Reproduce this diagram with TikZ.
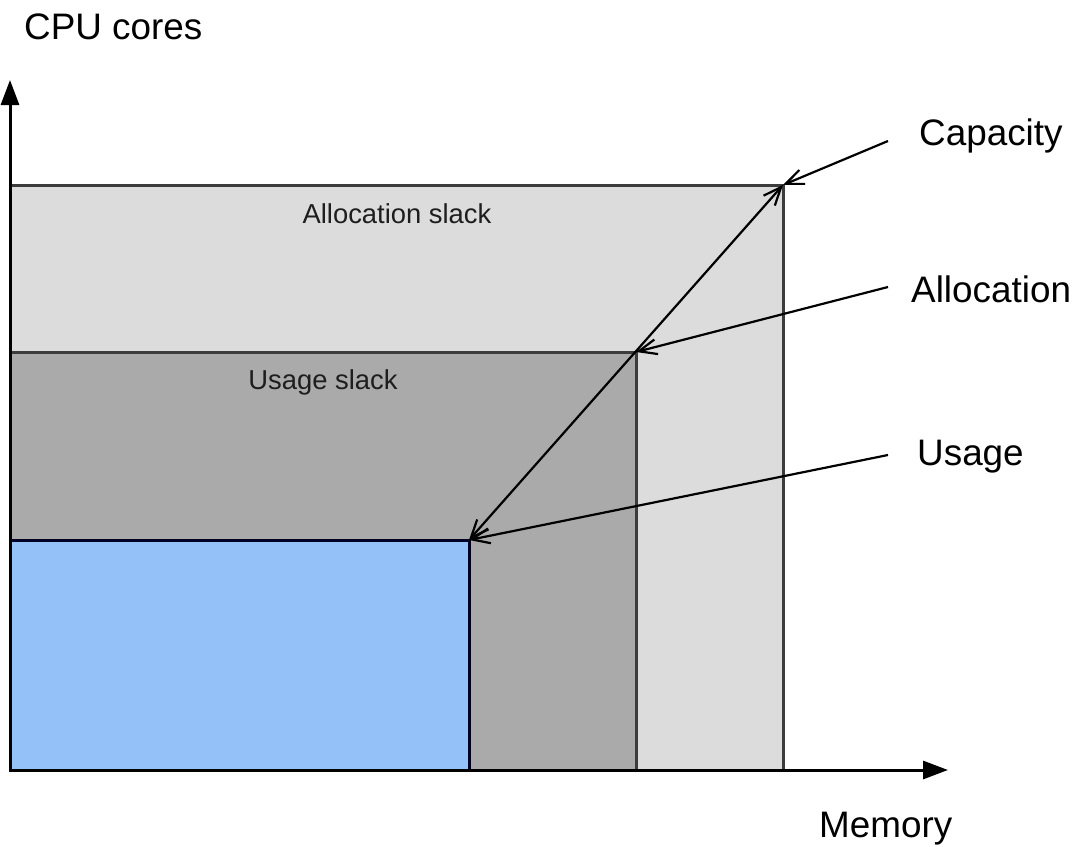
\documentclass[tikz,border=0pt]{standalone}
\usepackage{fontspec}
\setmainfont{Liberation Sans}
\usetikzlibrary{arrows.meta}
\definecolor{capfill}{RGB}{220,220,220}
\definecolor{allocfill}{RGB}{170,170,170}
\definecolor{usefill}{RGB}{148,194,248}
\definecolor{edge}{RGB}{60,60,60}
\definecolor{txt}{RGB}{30,30,30}
\tikzset{
  barb/.tip={Straight Barb[length=18bp,width=15bp]},
  region/.style={draw=edge, line width=3bp},
  axis/.style={line width=3bp, -{Triangle[length=25bp,width=18bp]}},
  pointer/.style={line width=2.2bp, -barb},
  biglabel/.style={font=\fontsize{37}{40}\selectfont, text=black, inner sep=0pt},
  smalllabel/.style={font=\fontsize{27.5}{30}\selectfont, text=txt, inner sep=0pt}
}
\begin{document}
\begin{tikzpicture}[x=1bp,y=-1bp]
\useasboundingbox (0,0) rectangle (1078,847);
\coordinate (O) at (10,770);
\coordinate (cap) at (783,185);
\coordinate (alloc) at (636,352);
\coordinate (use) at (469,540);
\coordinate (ytip) at (10,80);
\coordinate (xtip) at (948,770);
\coordinate (capsrc) at (888,141);
\coordinate (allocsrc) at (888,287);
\coordinate (usesrc) at (888,455);

\fill[capfill] (O) rectangle (cap);
\draw[region] (O |- cap) -- (cap) -- (cap |- O);
\fill[allocfill] (O) rectangle (alloc);
\draw[region] (O |- alloc) -- (alloc) -- (alloc |- O);
\fill[usefill] (O) rectangle (use);
\draw[region, draw=black!85!blue] (O) rectangle (use);

\draw[axis] (O) -- (ytip);
\draw[axis] (O) -- (xtip);

\node[biglabel, anchor=west] (cpu) at (24,27) {CPU cores};
\node[biglabel, anchor=west] (mem) at (819,829) {Memory};
\node[biglabel, anchor=west] (capl) at (919,136) {Capacity};
\node[biglabel, anchor=west] (allocl) at (911,289) {Allocation};
\node[biglabel, anchor=west] (usel) at (917,457) {Usage};
\node[smalllabel] (aslack) at (397,214) {Allocation slack};
\node[smalllabel] (uslack) at (323,382) {Usage slack};

\draw[line width=2.2bp, barb-barb] (use) -- (cap);
\draw[pointer] (capsrc) -- (cap);
\draw[pointer] (allocsrc) -- (alloc);
\draw[pointer] (usesrc) -- (use);
\end{tikzpicture}
\end{document}
